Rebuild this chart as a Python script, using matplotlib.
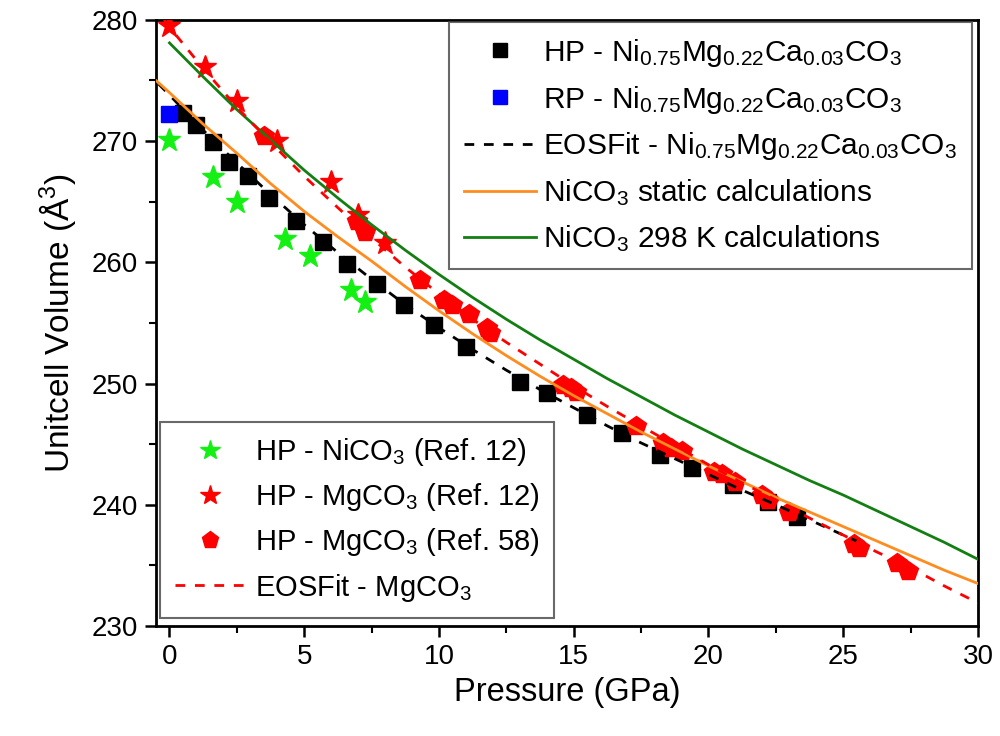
import matplotlib
matplotlib.use("Agg")
import matplotlib.pyplot as plt
from matplotlib.ticker import MultipleLocator

plt.rcParams['font.family'] = ['Liberation Sans', 'DejaVu Sans']
plt.rcParams['mathtext.fontset'] = 'custom'
plt.rcParams['mathtext.rm'] = 'Liberation Sans'
plt.rcParams['mathtext.it'] = 'Liberation Sans'
plt.rcParams['mathtext.default'] = 'regular'

# ---------------- data ----------------
hp_ni_P = [0.5, 1.0, 1.6, 2.2, 2.9, 3.7, 4.7, 5.7, 6.6, 7.7, 8.7, 9.8, 11.0, 13.0,
           14.0, 15.5, 16.8, 18.2, 19.4, 20.9, 22.2, 23.3]
hp_ni_V = [272.3, 271.3, 269.9, 268.3, 267.1, 265.3, 263.4, 261.7, 259.9, 258.2, 256.5,
           254.8, 253.0, 250.1, 249.2, 247.4, 245.9, 244.1, 243.0, 241.6, 240.2, 239.0]

rp_ni_P = [0.0]
rp_ni_V = [272.2]

ni_ref12_P = [0.0, 1.6, 2.5, 4.3, 5.2, 6.75, 7.25]
ni_ref12_V = [270.1, 267.0, 265.0, 261.9, 260.5, 257.7, 256.7]

mg_ref12_P = [0.0, 1.3, 2.5, 4.0, 6.0, 7.0, 8.0]
mg_ref12_V = [279.5, 276.1, 273.3, 270.0, 266.6, 263.9, 261.6]

mg_ref58_P = [3.5, 6.95, 7.25, 9.3, 10.2, 10.5, 11.1, 11.8, 11.9, 14.6, 14.9, 15.1, 17.3,
              18.3, 18.6, 19.0, 20.2, 20.5, 21.0, 22.0, 22.2, 23.0, 25.4, 25.6, 27.0, 27.4]
mg_ref58_V = [270.4, 263.4, 262.5, 258.5, 256.9, 256.5, 255.7, 254.6, 254.2, 249.9, 249.6,
              249.3, 246.5, 245.1, 244.7, 244.4, 242.7, 242.5, 241.9, 240.8, 240.4, 239.4,
              236.8, 236.4, 235.2, 234.5]

eos_ni_P = [-0.4, 0.0, 1.25, 2.5, 3.75, 5.0, 6.25, 7.5, 8.75, 10.0, 11.25, 12.5, 13.75,
            15.0, 16.25, 17.5, 18.75, 20.0, 21.25, 22.5, 24.0, 25.5]
eos_ni_V = [274.7, 273.8, 270.9, 268.2, 265.6, 263.1, 260.8, 258.6, 256.5, 254.6, 252.8,
            251.1, 249.5, 248.0, 246.5, 245.1, 243.8, 242.5, 241.2, 240.0, 238.5, 237.0]

static_P = [-0.5, 0.0, 1.25, 2.5, 3.75, 5.0, 6.25, 7.5, 8.75, 10.0, 11.25, 12.5, 13.75,
            15.0, 16.25, 17.5, 18.75, 20.0, 21.25, 22.5, 23.75, 25.0, 26.25, 27.5, 28.75, 30.0]
static_V = [275.0, 274.0, 271.4, 269.0, 266.5, 264.2, 262.1, 260.1, 258.0, 256.0, 254.1,
            252.3, 250.6, 249.0, 247.5, 246.0, 244.6, 243.2, 241.9, 240.6, 239.4, 238.2,
            237.0, 235.8, 234.6, 233.5]

k298_P = [0.0, 1.25, 2.5, 3.75, 5.0, 6.25, 7.5, 8.75, 10.0, 11.25, 12.5, 13.75, 15.0,
          16.25, 17.5, 18.75, 20.0, 21.25, 22.5, 23.75, 25.0, 26.25, 27.5, 28.75, 30.0]
k298_V = [278.1, 275.3, 272.6, 270.1, 267.6, 265.3, 263.1, 261.0, 259.0, 257.1, 255.3,
          253.6, 252.0, 250.4, 248.9, 247.4, 246.0, 244.6, 243.3, 242.0, 240.8, 239.5,
          238.2, 236.9, 235.5]

eos_mg_P = [-0.2, 0.0, 1.25, 2.5, 3.75, 5.0, 6.25, 7.5, 8.75, 10.0, 11.25, 12.5, 13.75,
            15.0, 16.25, 17.5, 18.75, 20.0, 21.25, 22.5, 23.75, 25.0, 26.25, 27.5, 28.75, 30.0]
eos_mg_V = [280.0, 279.4, 276.0, 272.8, 269.9, 267.1, 264.5, 262.0, 259.6, 257.4, 255.3,
            253.4, 251.6, 249.8, 248.1, 246.5, 244.9, 243.3, 241.8, 240.4, 238.9, 237.5,
            236.1, 234.8, 233.3, 231.9]

lab_hp = r'HP - Ni$_{0.75}$Mg$_{0.22}$Ca$_{0.03}$CO$_3$'
lab_rp = r'RP - Ni$_{0.75}$Mg$_{0.22}$Ca$_{0.03}$CO$_3$'
lab_eos_ni = r'EOSFit - Ni$_{0.75}$Mg$_{0.22}$Ca$_{0.03}$CO$_3$'
lab_static = r'NiCO$_3$ static calculations'
lab_298 = r'NiCO$_3$ 298 K calculations'
lab_ni12 = r'HP - NiCO$_3$ (Ref. 12)'
lab_mg12 = r'HP - MgCO$_3$ (Ref. 12)'
lab_mg58 = r'HP - MgCO$_3$ (Ref. 58)'
lab_eos_mg = r'EOSFit - MgCO$_3$'

# ---------------- figure ----------------
fig = plt.figure(figsize=(10, 7.36), dpi=100)
ax = fig.add_axes([0.156, 0.1495, 0.822, 0.8235])

c_green_star = '#14f014'
c_red = '#ff0000'
c_orange = '#ff8c1e'
c_dkgreen = '#137f13'

h_hp, = ax.plot(hp_ni_P, hp_ni_V, ls='none', marker='s', ms=12, color='black', zorder=2)
h_rp, = ax.plot(rp_ni_P, rp_ni_V, ls='none', marker='s', ms=12, color='#0000ff', zorder=2)
h_ni12, = ax.plot(ni_ref12_P, ni_ref12_V, ls='none', marker='*', ms=17, color=c_green_star, zorder=2)
h_mg58, = ax.plot(mg_ref58_P, mg_ref58_V, ls='none', marker='p', ms=15, color=c_red, zorder=3)
h_mg12, = ax.plot(mg_ref12_P, mg_ref12_V, ls='none', marker='*', ms=17, color=c_red, zorder=3)

h_eos_ni, = ax.plot(eos_ni_P, eos_ni_V, ls=(0, (3.5, 3.5)), lw=2.0, color='black', zorder=4)
h_static, = ax.plot(static_P, static_V, ls='-', lw=2.0, color=c_orange, zorder=4)
h_298, = ax.plot(k298_P, k298_V, ls='-', lw=2.0, color=c_dkgreen, zorder=4)
h_eos_mg, = ax.plot(eos_mg_P, eos_mg_V, ls=(0, (3.5, 3.5)), lw=2.0, color=c_red, zorder=4)

ax.set_xlim(-0.5, 30)
ax.set_ylim(230, 280)
ax.xaxis.set_major_locator(MultipleLocator(5))
ax.xaxis.set_minor_locator(MultipleLocator(2.5))
ax.yaxis.set_major_locator(MultipleLocator(10))
ax.yaxis.set_minor_locator(MultipleLocator(5))
ax.tick_params(axis='both', which='major', direction='out', length=8, width=1.8,
               labelsize=20, pad=5)
ax.tick_params(axis='both', which='minor', direction='out', length=5, width=1.5)
ax.tick_params(top=False, right=False, which='both')
for s in ax.spines.values():
    s.set_linewidth(2)

ax.set_xlabel('Pressure (GPa)', fontsize=23.5, labelpad=5)
ax.set_ylabel('Unitcell Volume (Å$^3$)', fontsize=24, labelpad=10)

leg1 = ax.legend([h_hp, h_rp, h_eos_ni, h_static, h_298],
                 [lab_hp, lab_rp, lab_eos_ni, lab_static, lab_298],
                 loc='upper right', bbox_to_anchor=(0.993, 0.997), borderaxespad=0,
                 fontsize=21.5, frameon=True, fancybox=False, edgecolor='#444444',
                 handlelength=2.4, handletextpad=0.25, labelspacing=0.5,
                 borderpad=0.5, markerscale=0.85)
leg1.get_frame().set_linewidth(1.5)
ax.add_artist(leg1)

leg2 = ax.legend([h_ni12, h_mg12, h_mg58, h_eos_mg],
                 [lab_ni12, lab_mg12, lab_mg58, lab_eos_mg],
                 loc='lower left', bbox_to_anchor=(0.005, 0.013), borderaxespad=0,
                 fontsize=21, frameon=True, fancybox=False, edgecolor='#444444',
                 handlelength=2.4, handletextpad=0.35, labelspacing=0.45,
                 borderpad=0.5, markerscale=0.85)
leg2.get_frame().set_linewidth(1.5)

fig.savefig('out.png', dpi=100)
